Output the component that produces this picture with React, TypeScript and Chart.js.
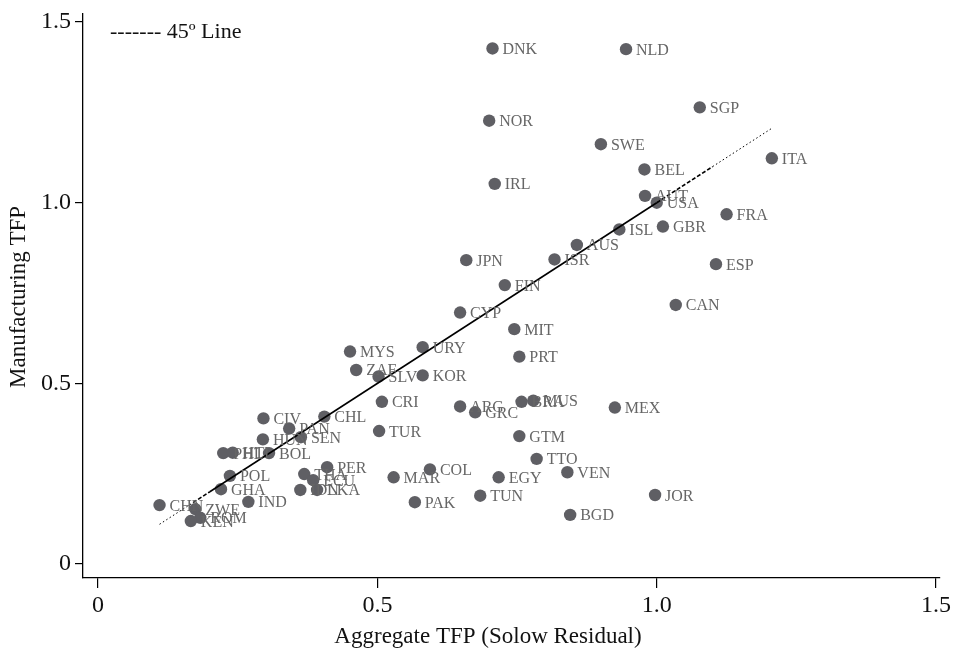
import React, { useEffect, useRef } from "react";
import { Chart, registerables } from "chart.js";

Chart.register(...registerables);

const countries = [
  "DNK", "NLD", "SGP", "NOR", "SWE", "ITA", "BEL", "IRL", "AUT", "USA",
  "FRA", "GBR", "ISL", "AUS", "ISR", "JPN", "ESP", "FIN", "CAN", "CYP",
  "MIT", "URY", "MYS", "PRT", "ZAF", "KOR", "SLV", "BRA", "MUS", "CRI",
  "ARG", "MEX", "GRC", "CHL", "CIV", "PAN", "TUR", "GTM", "SEN", "HUN",
  "PHL", "HTI", "BOL", "TTO", "PER", "COL", "VEN", "THA", "POL", "MAR",
  "EGY", "ECU", "GHA", "IDN", "LKA", "JOR", "TUN", "IND", "PAK", "CHN",
  "ZWE", "BGD", "ROM", "KEN",
];

const aggregateTFP = [
  0.706, 0.945, 1.077, 0.700, 0.900, 1.206, 0.978, 0.710, 0.979, 1.000,
  1.125, 1.011, 0.933, 0.857, 0.817, 0.659, 1.106, 0.728, 1.034, 0.648,
  0.745, 0.581, 0.451, 0.754, 0.462, 0.581, 0.502, 0.758, 0.779, 0.508,
  0.648, 0.925, 0.675, 0.405, 0.296, 0.342, 0.503, 0.754, 0.363, 0.295,
  0.224, 0.241, 0.306, 0.785, 0.410, 0.594, 0.840, 0.369, 0.236, 0.529,
  0.717, 0.385, 0.220, 0.362, 0.392, 0.997, 0.684, 0.269, 0.567, 0.110,
  0.174, 0.845, 0.183, 0.166,
];

const manufacturingTFP = [
  1.427, 1.425, 1.264, 1.227, 1.162, 1.123, 1.092, 1.052, 1.019, 1.000,
  0.968, 0.934, 0.926, 0.883, 0.843, 0.841, 0.830, 0.772, 0.717, 0.696,
  0.650, 0.600, 0.588, 0.574, 0.537, 0.522, 0.519, 0.449, 0.452, 0.449,
  0.436, 0.433, 0.420, 0.408, 0.403, 0.375, 0.368, 0.354, 0.351, 0.345,
  0.307, 0.308, 0.307, 0.291, 0.268, 0.262, 0.254, 0.249, 0.244, 0.240,
  0.240, 0.232, 0.207, 0.205, 0.205, 0.191, 0.189, 0.172, 0.171, 0.163,
  0.152, 0.136, 0.128, 0.119,
];

const xTicks = [0, 0.5, 1.0, 1.5];
const xTickLabels = ["0", "0.5", "1.0", "1.5"];
const yTicks = [0, 0.5, 1.0, 1.5];
const yTickLabels = ["0", "0.5", "1.0", "1.5"];

const xTitle = "Aggregate TFP (Solow Residual)";
const yTitle = "Manufacturing TFP";
const legendText = "------- 45º Line";

// style: where the 45-degree line changes its dash pattern
const lineStyleBreaks = [0.17, 0.2, 1.0, 1.1];

const SERIF = '"Liberation Serif", "Times New Roman", serif';

export default function App() {
  const ref = useRef<HTMLCanvasElement | null>(null);

  useEffect(() => {
    if (!ref.current) return;
    const lineStart = Math.min(...aggregateTFP);
    const lineEnd = Math.max(...aggregateTFP);
    const lineXs = [lineStart, ...lineStyleBreaks, lineEnd];

    const labelPlugin = {
      id: "pointLabels",
      afterDatasetsDraw(chart: any) {
        const ctx = chart.ctx as CanvasRenderingContext2D;
        const meta = chart.getDatasetMeta(1);
        ctx.save();
        ctx.font = `16px ${SERIF}`;
        ctx.fillStyle = "#666666";
        ctx.textAlign = "left";
        ctx.textBaseline = "alphabetic";
        meta.data.forEach((el: any, i: number) => {
          ctx.fillText(countries[i], el.x + 10, el.y + 5.5);
        });
        ctx.restore();
      },
      afterDraw(chart: any) {
        const ctx = chart.ctx as CanvasRenderingContext2D;
        ctx.save();
        ctx.fillStyle = "#111111";
        // legend
        ctx.font = `22px ${SERIF}`;
        ctx.textAlign = "left";
        ctx.textBaseline = "middle";
        ctx.fillText(legendText, 110, 32);
        // x title
        ctx.font = `23px ${SERIF}`;
        ctx.textAlign = "center";
        ctx.fillText(xTitle, 488, 637);
        // y title
        ctx.translate(19, 297);
        ctx.rotate(-Math.PI / 2);
        ctx.fillText(yTitle, 0, 0);
        ctx.restore();
      },
    };

    const chart = new Chart(ref.current, {
      type: "scatter",
      data: {
        datasets: [
          {
            type: "line",
            data: lineXs.map((v) => ({ x: v, y: v })),
            borderColor: "#000000",
            borderWidth: 1.6,
            pointRadius: 0,
            fill: false,
            order: 0,
            segment: {
              borderDash: (c: any) => {
                const x = c.p0.parsed.x;
                if (x < lineStyleBreaks[0]) return [1.5, 2.5];
                if (x < lineStyleBreaks[1]) return [4, 2];
                if (x < lineStyleBreaks[2]) return [];
                if (x < lineStyleBreaks[3]) return [4, 2];
                return [1.5, 2.5];
              },
              borderWidth: (c: any) => {
                const x = c.p0.parsed.x;
                if (x < lineStyleBreaks[0] || x >= lineStyleBreaks[3]) return 1;
                return 1.6;
              },
            },
          } as any,
          {
            type: "scatter",
            data: aggregateTFP.map((x, i) => ({ x, y: manufacturingTFP[i] })),
            backgroundColor: "#5f5f64",
            borderColor: "#5f5f64",
            borderWidth: 0,
            pointRadius: 6.2,
            order: 1,
          },
        ],
      },
      options: {
        animation: false,
        responsive: false,
        devicePixelRatio: 1,
        layout: { padding: { top: 14, right: 16, left: 0, bottom: 0 } },
        plugins: {
          legend: { display: false },
          tooltip: { enabled: false },
          title: { display: false },
        },
        scales: {
          x: {
            type: "linear",
            min: -0.027,
            max: 1.507,
            afterBuildTicks: (s: any) => {
              s.ticks = xTicks.map((v) => ({ value: v }));
            },
            afterFit: (s: any) => {
              s.height = 77;
              s.paddingLeft = 0;
              s.paddingRight = 0;
            },
            grid: {
              drawOnChartArea: false,
              drawTicks: true,
              tickLength: 10,
              color: "#000000",
              lineWidth: 1.2,
            },
            border: { display: true, color: "#000000", width: 1.3 },
            ticks: {
              font: { family: SERIF, size: 24 },
              color: "#111111",
              padding: 3,
              maxRotation: 0,
              autoSkip: false,
              callback: (_v: any, i: number) => xTickLabels[i],
            },
          },
          y: {
            type: "linear",
            min: -0.0387,
            max: 1.5223,
            afterBuildTicks: (s: any) => {
              s.ticks = yTicks.map((v) => ({ value: v }));
            },
            afterFit: (s: any) => {
              s.width = 83;
              s.paddingTop = 0;
              s.paddingBottom = 0;
            },
            grid: {
              drawOnChartArea: false,
              drawTicks: true,
              tickLength: 8,
              color: "#000000",
              lineWidth: 1.2,
            },
            border: { display: true, color: "#000000", width: 1.3 },
            ticks: {
              font: { family: SERIF, size: 24 },
              color: "#111111",
              padding: 4,
              autoSkip: false,
              callback: (_v: any, i: number) => yTickLabels[i],
            },
          },
        },
      },
      plugins: [labelPlugin],
    } as any);

    return () => chart.destroy();
  }, []);

  return (
    <div style={{ position: "absolute", left: 0, top: 0, width: 956, height: 655, background: "#ffffff" }}>
      <canvas ref={ref} width={956} height={655} style={{ display: "block", width: 956, height: 655 }} />
    </div>
  );
}
